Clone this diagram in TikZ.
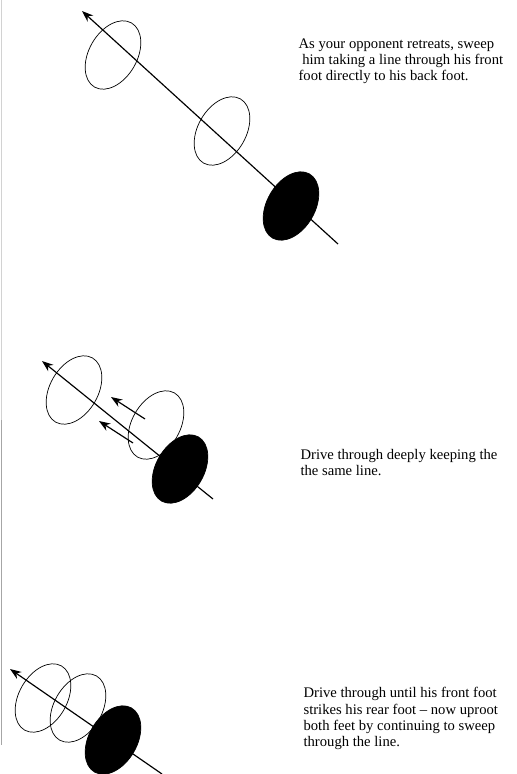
\documentclass[tikz,border=0pt]{standalone}
\usepackage{fontspec}
\setmainfont{Liberation Serif}
\usetikzlibrary{arrows.meta,shapes.geometric}
\begin{document}
\begin{tikzpicture}[x=0.3mm, y=-0.3mm,
		foot/.style={ellipse, draw, rotate=60, minimum width=22.2mm, minimum height=14.4mm, inner sep=0pt, line width=0.6pt},
		planted/.style={foot, fill=black},
		note/.style={align=left, anchor=north west, inner sep=0pt, font=\fontsize{12.5}{13.8}\selectfont},
		>={Stealth[length=3.4mm, width=2.5mm]}, line width=1pt]

	\useasboundingbox (0,0) rectangle (517,774);
	\draw[gray!35, line width=0.8pt] (1,0) -- (1,420);
	\draw[gray!70, line width=0.8pt] (1,420) -- (1,745);

	% Erste Phase
	\node[foot] (a1) at (113,55) {};
	\node[foot] (a2) at (222,131) {};
	\node[planted] (a3) at (291,206) {};
	\coordinate (p1) at (338,244);
	\coordinate (q1) at (82,11);
	\draw[->] (p1) -- (q1);
	\node[note] (t1) at (298,38) {As your opponent retreats, sweep\\\ him taking a line through his front\\foot directly to his back foot.};

	% Zweite Phase
	\node[foot] (b1) at (74,390) {};
	\node[foot] (b2) at (156,425) {};
	\node[planted] (b3) at (180,469) {};
	\coordinate (p2) at (213,499);
	\coordinate (q2) at (42,361);
	\draw[->] (p2) -- (q2);
	\coordinate (r1) at (145,419);
	\coordinate (s1) at (111,397);
	\coordinate (r2) at (133,443);
	\coordinate (s2) at (99,421);
	\draw[->] (r1) -- (s1);
	\draw[->] (r2) -- (s2);
	\node[note] (t2) at (300,449) {Drive through deeply keeping the\\the same line.};

	% Dritte Phase
	\node[foot] (c1) at (43,698) {};
	\node[foot] (c2) at (78,708) {};
	\node[planted] (c3) at (113,740) {};
	\coordinate (p3) at (162,774);
	\coordinate (q3) at (10,669);
	\draw[->] (p3) -- (q3);
	\node[note] (t3) at (303,687) {Drive through until his front foot\\strikes his rear foot -- now uproot\\both feet by continuing to sweep\\through the line.};

\end{tikzpicture}
\end{document}
